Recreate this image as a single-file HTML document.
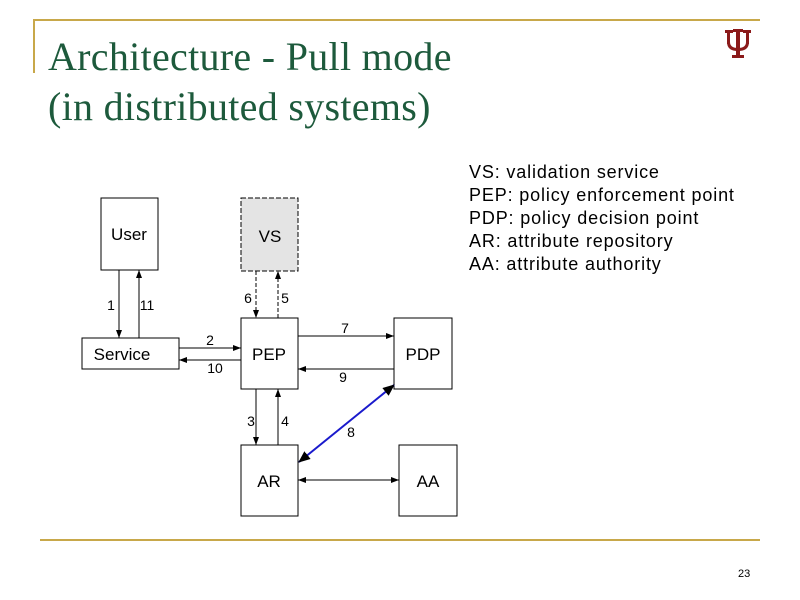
<!DOCTYPE html>
<html><head><style>
body{margin:0;width:800px;height:600px;background:#fff;overflow:hidden;position:relative}
.t{position:absolute;left:48px;font-family:"Liberation Serif",serif;font-size:40px;color:#1d5a3c;line-height:1;letter-spacing:0.3px}
.lg{position:absolute;left:469px;font-family:"Liberation Sans",sans-serif;font-size:18px;letter-spacing:0.85px;color:#000;line-height:23px;top:161px}
</style></head><body>
<div style="position:absolute;left:33px;top:19px;width:727px;height:2px;background:#c8a84a"></div>
<div style="position:absolute;left:33px;top:19px;width:2px;height:54px;background:#c8a84a"></div>
<div style="position:absolute;left:40px;top:539px;width:720px;height:2px;background:#c8a84a"></div>
<div class="t" style="top:37px">Architecture - Pull mode</div>
<div class="t" style="top:87px">(in distributed systems)</div>
<div class="lg">VS: validation service<br>PEP: policy enforcement point<br>PDP: policy decision point<br>AR: attribute repository<br>AA: attribute authority</div>
<div style="position:absolute;left:738px;top:568px;font-family:'Liberation Sans',sans-serif;font-size:11px">23</div>
<svg width="800" height="600" style="position:absolute;left:0;top:0">
<defs>
<marker id="a" markerWidth="8" markerHeight="6" refX="8" refY="3" orient="auto-start-reverse"><path d="M0,0L8,3L0,6z" fill="#000"/></marker>
<marker id="b" markerWidth="12" markerHeight="10" refX="11" refY="5" orient="auto-start-reverse" markerUnits="userSpaceOnUse"><path d="M0,0L12,5L0,10z" fill="#000"/></marker>
</defs>
<g fill="#8b1a1a">
<rect x="725" y="30" width="8" height="3"/><rect x="743" y="30" width="8" height="3"/><rect x="733" y="29" width="10" height="3"/>
<rect x="727" y="30" width="3" height="14"/><rect x="746" y="30" width="3" height="14"/><rect x="736" y="29" width="4" height="27"/>
<path d="M727,42q0,9 11,9q11,0 11,-9h-3q0,6 -8,6q-8,0 -8,-6z"/>
<rect x="732" y="55" width="12" height="3"/>
</g>
<g fill="#fff" stroke="#000" stroke-width="1">
<rect x="101" y="198" width="57" height="72"/>
<rect x="241" y="198" width="57" height="73" fill="#e4e4e4" stroke-dasharray="5,2"/>
<rect x="82" y="338" width="97" height="31"/>
<rect x="241" y="318" width="57" height="71"/>
<rect x="394" y="318" width="58" height="71"/>
<rect x="241" y="445" width="57" height="71"/>
<rect x="399" y="445" width="58" height="71"/>
</g>
<g font-family="Liberation Sans,sans-serif" font-size="17" text-anchor="middle" fill="#000">
<text x="129" y="240">User</text><text x="270" y="242">VS</text>
<text x="122" y="360">Service</text><text x="269" y="360">PEP</text>
<text x="423" y="360">PDP</text><text x="269" y="487">AR</text><text x="428" y="487">AA</text>
<g font-size="14">
<text x="111" y="310">1</text><text x="147" y="310">11</text>
<text x="210" y="345">2</text><text x="215" y="373">10</text>
<text x="248" y="303">6</text><text x="285" y="303">5</text>
<text x="345" y="333">7</text><text x="343" y="382">9</text>
<text x="251" y="426">3</text><text x="285" y="426">4</text>
<text x="351" y="437">8</text></g></g>
<g stroke="#000" stroke-width="1" fill="none">
<line x1="119" y1="270" x2="119" y2="338" marker-end="url(#a)"/>
<line x1="139" y1="338" x2="139" y2="270" marker-end="url(#a)"/>
<line x1="179" y1="348" x2="241" y2="348" marker-end="url(#a)"/>
<line x1="241" y1="360" x2="179" y2="360" marker-end="url(#a)"/>
<line x1="256" y1="271" x2="256" y2="318" stroke-dasharray="4,2" marker-end="url(#a)"/>
<line x1="278" y1="318" x2="278" y2="271" stroke-dasharray="4,2" marker-end="url(#a)"/>
<line x1="298" y1="336" x2="394" y2="336" marker-end="url(#a)"/>
<line x1="394" y1="369" x2="298" y2="369" marker-end="url(#a)"/>
<line x1="256" y1="389" x2="256" y2="445" marker-end="url(#a)"/>
<line x1="278" y1="445" x2="278" y2="389" marker-end="url(#a)"/>
<line x1="298" y1="480" x2="399" y2="480" marker-end="url(#a)" marker-start="url(#a)"/>
<line x1="299" y1="462" x2="394" y2="385" stroke="#1a1acc" stroke-width="2" marker-end="url(#b)" marker-start="url(#b)"/>
</g>
</svg>
</body></html>
